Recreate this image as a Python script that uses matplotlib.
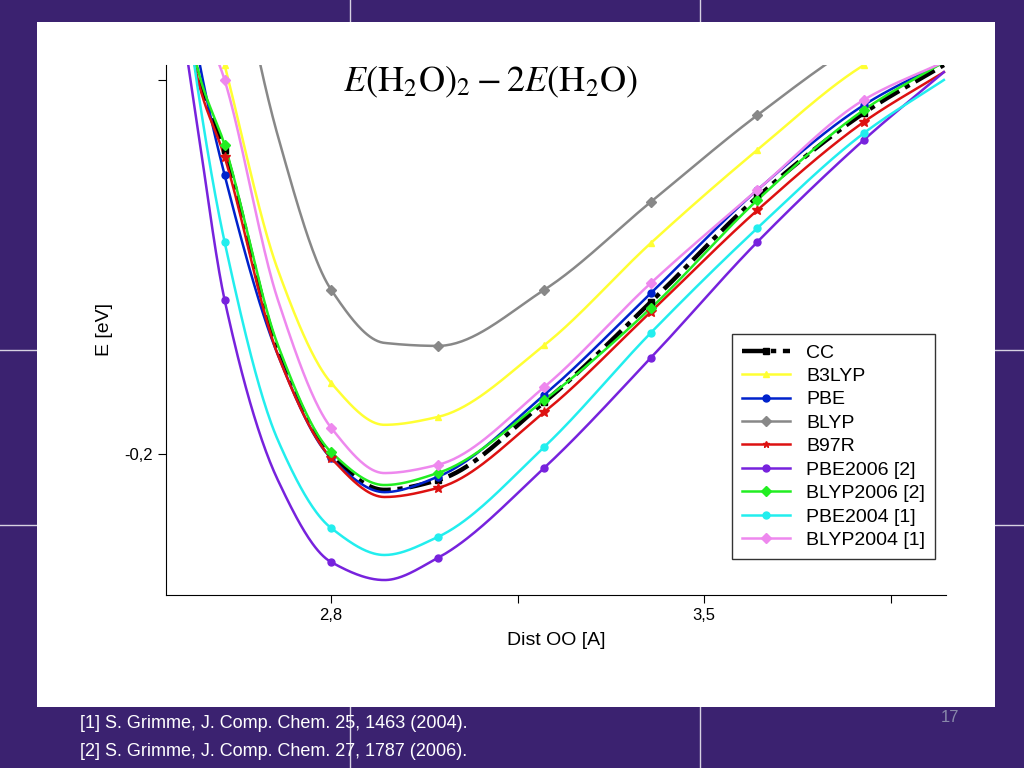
import numpy as np
import matplotlib
matplotlib.use("Agg")
import matplotlib.pyplot as plt
from matplotlib.patches import Rectangle
from matplotlib.lines import Line2D

plt.rcParams["font.family"] = ["Liberation Sans", "DejaVu Sans"]
plt.rcParams["mathtext.fontset"] = "stix"

r = [2.5, 2.55, 2.6, 2.7, 2.8, 2.9, 3.0, 3.2, 3.4, 3.6, 3.8, 3.95]
marker_r = [2.6, 2.8, 3.0, 3.2, 3.4, 3.6, 3.8]

names = ["CC", "B3LYP", "PBE", "BLYP", "B97R", "PBE2006 [2]", "BLYP2006 [2]", "PBE2004 [1]", "BLYP2004 [1]"]
cc       = [-0.0519, -0.0987, -0.1187, -0.1722, -0.2003, -0.2096, -0.2070, -0.1861, -0.1594, -0.1313, -0.1088, -0.0960]
b3lyp    = [-0.0118, -0.0679, -0.0960, -0.1508, -0.1810, -0.1922, -0.1901, -0.1709, -0.1436, -0.1187, -0.0960, -0.0850]
pbe      = [-0.0465, -0.0933, -0.1254, -0.1735, -0.2011, -0.2102, -0.2061, -0.1842, -0.1570, -0.1294, -0.1067, -0.0952]
blyp     = [0.0300, -0.0150, -0.0500, -0.1150, -0.1561, -0.1703, -0.1711, -0.1561, -0.1326, -0.1094, -0.0893, -0.0786]
b97r     = [-0.0519, -0.1000, -0.1206, -0.1735, -0.2011, -0.2115, -0.2091, -0.1888, -0.1620, -0.1348, -0.1112, -0.0979]
pbe2006  = [-0.0652, -0.1134, -0.1588, -0.2070, -0.2289, -0.2337, -0.2278, -0.2037, -0.1743, -0.1433, -0.1160, -0.0979]
blyp2006 = [-0.0519, -0.0973, -0.1174, -0.1709, -0.1995, -0.2083, -0.2051, -0.1856, -0.1610, -0.1321, -0.1080, -0.0952]
pbe2004  = [-0.0465, -0.1027, -0.1433, -0.1963, -0.2198, -0.2270, -0.2222, -0.1981, -0.1676, -0.1396, -0.1142, -0.1000]
blyp2004 = [-0.0118, -0.0800, -0.1000, -0.1588, -0.1930, -0.2051, -0.2029, -0.1821, -0.1543, -0.1294, -0.1053, -0.0952]
series = [cc, b3lyp, pbe, blyp, b97r, pbe2006, blyp2006, pbe2004, blyp2004]
colors = ["black", "#ffff33", "#0022cc", "#888888", "#dd1111", "#7722dd", "#22ee22", "#22eeee", "#ee88ee"]
markers = ["s", "^", "o", "D", "*", "o", "D", "o", "D"]

def smooth(x, y, n=40):
    x = np.asarray(x, float); y = np.asarray(y, float)
    h = np.diff(x); d = np.diff(y) / h
    m = np.zeros_like(y)
    for k in range(1, len(x) - 1):
        if d[k - 1] * d[k] > 0:
            w1 = 2 * h[k] + h[k - 1]; w2 = h[k] + 2 * h[k - 1]
            m[k] = (w1 + w2) / (w1 / d[k - 1] + w2 / d[k])
    m[0] = d[0]; m[-1] = d[-1]
    xs, ys = [], []
    for k in range(len(x) - 1):
        t = np.linspace(0, 1, n, endpoint=False)
        h00 = 2*t**3 - 3*t**2 + 1; h10 = t**3 - 2*t**2 + t
        h01 = -2*t**3 + 3*t**2; h11 = t**3 - t**2
        xs.append(x[k] + t * h[k])
        ys.append(h00*y[k] + h10*h[k]*m[k] + h01*y[k+1] + h11*h[k]*m[k+1])
    xs.append([x[-1]]); ys.append([y[-1]])
    return np.concatenate(xs), np.concatenate(ys)

fig = plt.figure(figsize=(10.24, 7.68), dpi=100)
fig.patch.set_facecolor("#3b2270")
for xx in [350 / 1024, 700 / 1024]:
    fig.add_artist(Line2D([xx, xx], [0, 1], color="white", lw=1, alpha=0.8))
for yy in [1 - 350 / 768, 1 - 525 / 768]:
    fig.add_artist(Line2D([0, 1], [yy, yy], color="white", lw=1, alpha=0.8))
fig.add_artist(Rectangle((37 / 1024, 1 - 707 / 768), 958 / 1024, 685 / 768, facecolor="white", edgecolor="none", zorder=1))

ax = fig.add_axes([166 / 1024, 1 - 595 / 768, 780 / 1024, 530 / 768], zorder=2)
ax.set_facecolor("white")
ccls = (0, (5, 1.5, 1.2, 1.5))
for name, s, c, m in zip(names, series, colors, markers):
    xs, ys = smooth(r, s)
    ls = ccls if name == "CC" else "-"
    lw = 3.2 if name == "CC" else 1.8
    ax.plot(xs, ys, color=c, lw=lw, ls=ls, zorder=3)
    mv = [s[r.index(v)] for v in marker_r]
    ax.plot(marker_r, mv, ls="none", marker=m, color=c, ms=5 if m != "*" else 7, zorder=4)
handles = [Line2D([], [], color=c, lw=3.2 if n == "CC" else 1.8,
                  ls=ccls if n == "CC" else "-", marker=m, ms=5)
           for n, c, m in zip(names, colors, markers)]
leg = ax.legend(handles, names, loc="lower right", bbox_to_anchor=(0.998, 0.05), fontsize=14,
                frameon=True, fancybox=False, edgecolor="black", handlelength=2.5, borderpad=0.5,
                labelspacing=0.3)
leg.get_frame().set_linewidth(1)

ax.set_xlim(2.49, 3.954)
ax.set_ylim(-0.2377, -0.096)
ax.set_xticks([2.8, 3.15, 3.5, 3.85])
ax.set_xticklabels(["2,8", "", "3,5", ""], fontsize=12)
ax.set_yticks([-0.2, -0.1])
ax.set_yticklabels(["-0,2", ""], fontsize=12)
ax.spines["top"].set_visible(False)
ax.spines["right"].set_visible(False)
ax.tick_params(direction="out", length=6)
ax.set_xlabel("Dist OO [A]", fontsize=14, labelpad=6)
ax.set_ylabel("E [eV]", fontsize=14, labelpad=8)

fig.text(490 / 1024, 1 - 82 / 768, r"$E(\mathrm{H_2O})_2-2E(\mathrm{H_2O})$", fontsize=26, ha="center", va="center", zorder=5)
fig.text(80 / 1024, 1 - 724 / 768, "[1] S. Grimme, J. Comp. Chem. 25, 1463 (2004).", color="white", fontsize=13, va="center")
fig.text(80 / 1024, 1 - 752 / 768, "[2] S. Grimme, J. Comp. Chem. 27, 1787 (2006).", color="white", fontsize=13, va="center")
fig.text(950 / 1024, 1 - 718 / 768, "17", color="#8888aa", fontsize=12, va="center", ha="center")
fig.savefig("out.png", dpi=100, facecolor=fig.get_facecolor())
